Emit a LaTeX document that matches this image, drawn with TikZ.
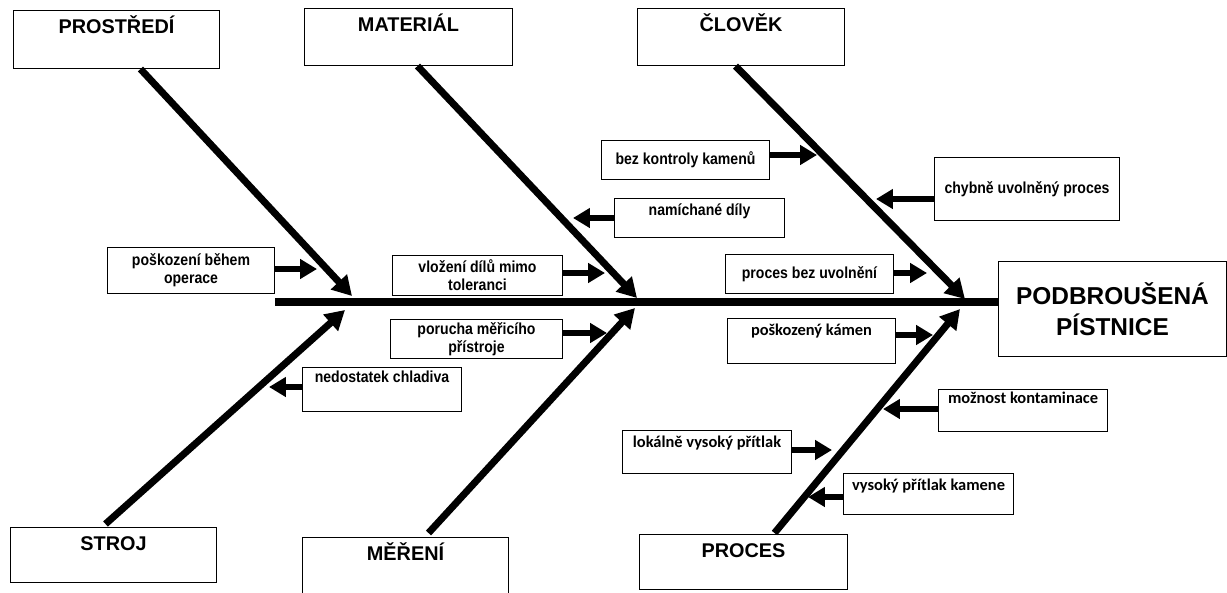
\documentclass[tikz,border=0pt]{standalone}
\usepackage{fontspec}
\setmainfont{Liberation Sans}
\newfontfamily\narrowfont{Liberation Sans}[FakeStretch=0.88]
\newfontfamily\calfont{Carlito}
\usetikzlibrary{arrows.meta}

\begin{document}
\begin{tikzpicture}[x=0.02cm, y=-0.02cm,
    catbox/.style={draw, line width=0.6pt, anchor=north west, inner sep=0pt, text height=0.46cm,
      font=\bfseries\fontsize{11.3}{13}\selectfont},
    subbox/.style={draw, line width=0.6pt, anchor=north west, inner sep=0pt, align=center,
      font=\narrowfont\bfseries\fontsize{9.1}{10.2}\selectfont},
    calbox/.style={subbox, font=\calfont\bfseries\fontsize{9.35}{11}\selectfont},
    bone/.style={line width=4pt, -{Triangle[length=11pt,width=12pt]}},
    cause/.style={line width=3.6pt, -{Triangle[length=9.6pt,width=10.8pt]}}]
      \useasboundingbox (0,0) rectangle (1227,592);
      % categories
      \node[catbox, minimum width=4.12cm, text depth=0.70cm] (prostredi) at (13,10) {PROSTŘEDÍ};
      \node[catbox, minimum width=4.16cm, text depth=0.68cm] (material) at (304,8) {MATERIÁL};
      \node[catbox, minimum width=4.14cm, text depth=0.68cm] (clovek) at (637,8) {ČLOVĚK};
      \node[catbox, minimum width=4.12cm, text depth=0.64cm] (stroj) at (10,527) {STROJ};
      \node[catbox, minimum width=4.12cm, text depth=0.74cm] (mereni) at (302,537) {MĚŘENÍ};
      \node[catbox, minimum width=4.16cm, text depth=0.64cm] (proces) at (639,534) {PROCES};
      % effect
      \node[draw, line width=0.6pt, anchor=north west, minimum width=4.56cm, minimum height=1.9cm,
        align=center, font=\bfseries\fontsize{13.9}{17.6}\selectfont] (effect) at (998,261) {PODBROUŠENÁ\\PÍSTNICE};

      % causes, upper half
      \node[subbox, minimum width=3.34cm, minimum height=0.92cm] (pbo) at (107,247) {poškození během\\operace};
      \node[subbox, minimum width=3.40cm, minimum height=0.80cm] (vdm) at (392,255) {vložení dílů mimo\\toleranci};
      \node[subbox, minimum width=3.36cm, minimum height=0.78cm] (bkk) at (601,140) {bez kontroly kamenů};
      \node[subbox, minimum width=3.40cm, text height=0.34cm, text depth=0.44cm] (nd) at (614,198) {namíchané díly};
      \node[subbox, minimum width=3.70cm, minimum height=1.26cm] (cup) at (934,157) {chybně uvolněný proces};
      \node[subbox, minimum width=3.36cm, minimum height=0.78cm] (pbu) at (725,254) {proces bez uvolnění};
      % causes, lower half
      \node[subbox, minimum width=3.44cm, minimum height=0.78cm] (pmp) at (390,319) {porucha měřicího\\přístroje};
      \node[subbox, minimum width=3.18cm, text height=0.30cm, text depth=0.58cm] (nch) at (302,367) {nedostatek chladiva};
      \node[calbox, minimum width=3.36cm, text height=0.34cm, text depth=0.56cm] (pk) at (727,318) {poškozený kámen};
      \node[calbox, minimum width=3.38cm, text height=0.28cm, text depth=0.56cm] (mk) at (938,389) {možnost kontaminace};
      \node[calbox, minimum width=3.38cm, text height=0.34cm, text depth=0.52cm] (lvp) at (622,430) {lokálně vysoký přítlak};
      \node[calbox, minimum width=3.40cm, text height=0.34cm, text depth=0.48cm] (vpk) at (843,473) {vysoký přítlak kamene};

      % spine and bones
      \coordinate (tail) at (275,302);
      \coordinate (prostredi-tip) at (352,296);
      \coordinate (material-tip) at (637,298);
      \coordinate (clovek-tip) at (965,299);
      \coordinate (stroj-tip) at (345,310);
      \coordinate (mereni-tip) at (635,308);
      \coordinate (proces-tip) at (960,309);
      \draw[line width=4pt] (tail) -- (effect.west |- tail);
      \draw[bone] ([xshift=0.48cm]prostredi.south) -- (prostredi-tip);
      \draw[bone] ([xshift=0.18cm]material.south) -- (material-tip);
      \draw[bone] ([xshift=-0.11cm]clovek.south) -- (clovek-tip);
      \draw[bone] ([xshift=-0.16cm,yshift=0.06cm]stroj.north) -- (stroj-tip);
      \draw[bone] ([xshift=0.46cm,yshift=0.08cm]mereni.north) -- (mereni-tip);
      \draw[bone] ([xshift=0.62cm,yshift=0.02cm]proces.north) -- (proces-tip);

      % small arrows
      \coordinate (pbo-e) at (317,269);
      \coordinate (vdm-e) at (605,273);
      \coordinate (bkk-e) at (817,155);
      \coordinate (nd-e) at (573,218);
      \coordinate (cup-e) at (876,199);
      \coordinate (pbu-e) at (927,273);
      \coordinate (pmp-e) at (607,333);
      \coordinate (nch-e) at (269,387);
      \coordinate (pk-e) at (933,335);
      \coordinate (mk-e) at (883,409);
      \coordinate (lvp-e) at (832,450);
      \coordinate (vpk-e) at (808,497);
      \draw[cause] (pbo.east |- pbo-e) -- (pbo-e);
      \draw[cause] (vdm.east |- vdm-e) -- (vdm-e);
      \draw[cause] (bkk.east |- bkk-e) -- (bkk-e);
      \draw[cause] (nd.west |- nd-e) -- (nd-e);
      \draw[cause] (cup.west |- cup-e) -- (cup-e);
      \draw[cause] (pbu.east |- pbu-e) -- (pbu-e);
      \draw[cause] (pmp.east |- pmp-e) -- (pmp-e);
      \draw[cause] (nch.west |- nch-e) -- (nch-e);
      \draw[cause] (pk.east |- pk-e) -- (pk-e);
      \draw[cause] (mk.west |- mk-e) -- (mk-e);
      \draw[cause] (lvp.east |- lvp-e) -- (lvp-e);
      \draw[cause] (vpk.west |- vpk-e) -- (vpk-e);
    \end{tikzpicture}
\end{document}
